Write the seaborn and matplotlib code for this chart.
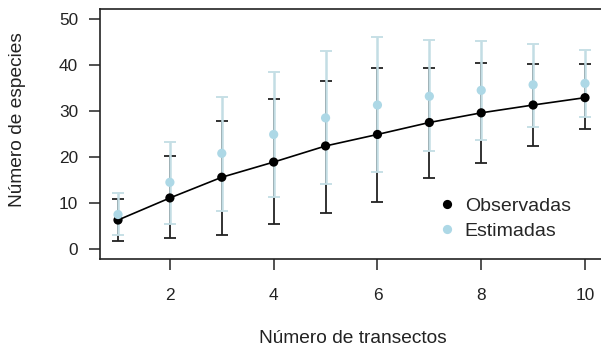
import matplotlib
matplotlib.use("Agg")
import matplotlib.pyplot as plt
import seaborn as sns
import pandas as pd
import numpy as np

transectos = [1, 2, 3, 4, 5, 6, 7, 8, 9, 10]
obs_mean = [6.3, 11.1, 15.6, 18.9, 22.4, 24.9, 27.5, 29.6, 31.3, 32.9]
obs_low = [1.7, 2.4, 3.0, 5.4, 7.8, 10.3, 15.4, 18.6, 22.5, 26.0]
obs_high = [10.9, 20.2, 27.8, 32.6, 36.6, 39.4, 39.4, 40.5, 40.2, 40.2]
est_mean = [7.5, 14.5, 20.8, 24.9, 28.5, 31.3, 33.2, 34.5, 35.7, 36.0]
est_low = [3.0, 5.5, 8.3, 11.4, 14.1, 16.8, 21.2, 23.8, 26.6, 28.8]
est_high = [12.1, 23.3, 33.1, 38.5, 43.0, 46.0, 45.4, 45.3, 44.6, 43.3]

sns.set_style("ticks")
plt.rcParams["font.family"] = ["Liberation Sans", "DejaVu Sans"]

df = pd.DataFrame({
    "x": transectos * 2,
    "y": obs_mean + est_mean,
    "tipo": ["Observadas"] * 10 + ["Estimadas"] * 10,
})

fig = plt.figure(figsize=(6.01, 3.49), dpi=100)
W, H = 601, 349
ax = fig.add_axes([100 / W, (H - 259) / H, 504 / W, 250 / H])

black = "#000000"
lblue = "#add8e6"
ebar_blue = "#c3dde4"
dark = "#222222"

xs = np.array(transectos)
om = np.array(obs_mean); ol = np.array(obs_low); oh = np.array(obs_high)
em = np.array(est_mean); el = np.array(est_low); eh = np.array(est_high)

ax.errorbar(xs, om, yerr=[om - ol, oh - om], fmt="none", ecolor=dark,
            elinewidth=1.3, capsize=4, capthick=1.3, zorder=2)
ax.errorbar(xs, em, yerr=[em - el, eh - em], fmt="none", ecolor=ebar_blue,
            elinewidth=1.8, capsize=4, capthick=1.3, zorder=3)

sns.lineplot(data=df[df.tipo == "Observadas"], x="x", y="y", color=black,
             linewidth=1.2, ax=ax, zorder=5, legend=False)
sns.scatterplot(data=df, x="x", y="y", hue="tipo",
                palette={"Observadas": black, "Estimadas": lblue},
                hue_order=["Observadas", "Estimadas"],
                s=44, linewidth=0, ax=ax, zorder=6)

ax.set_xlim(0.653, 10.366)
ax.set_ylim(-2.17, 52.17)
ax.set_xticks([2, 4, 6, 8, 10])
ax.set_yticks([0, 10, 20, 30, 40, 50])
ax.tick_params(axis="both", labelsize=12.4, length=8.2, width=1.1, color=dark,
               labelcolor=dark)
ax.tick_params(axis="x", pad=12.5)
ax.tick_params(axis="y", pad=7.5)
for s in ["left", "right", "top", "bottom"]:
    ax.spines[s].set_visible(True)
    ax.spines[s].set_linewidth(1.2)
    ax.spines[s].set_color(dark)

ax.set_xlabel("Número de transectos", fontsize=13.8, color=dark)
ax.set_ylabel("Número de especies", fontsize=13.8, color=dark)
ax.xaxis.set_label_coords((352.5 - 100) / 504, (259 - 343) / 250)
ax.yaxis.set_label_coords((26 - 100) / 504, (259 - 120) / 250)
ax.xaxis.label.set_va("baseline")

leg = ax.legend(loc="center left", bbox_to_anchor=(0.666, 0.162), frameon=False,
                fontsize=14, handletextpad=0.3, labelspacing=0.4,
                markerscale=1.0, borderpad=0, borderaxespad=0, handlelength=1.2)

fig.savefig("out.png", dpi=100)
